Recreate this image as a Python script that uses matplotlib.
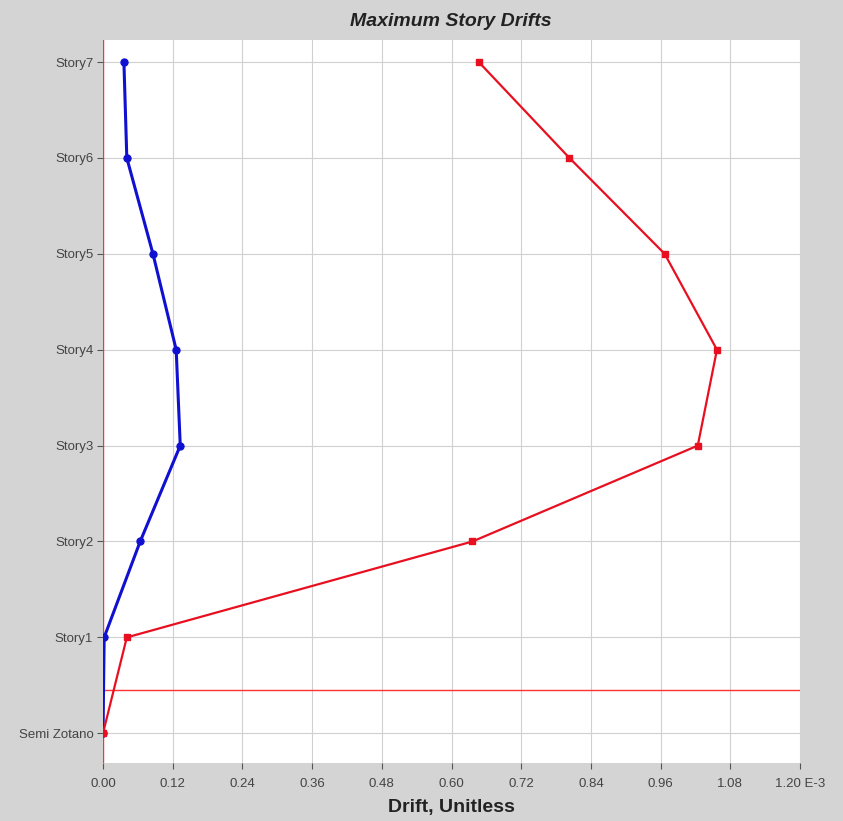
import matplotlib
matplotlib.use("Agg")
import matplotlib.pyplot as plt

plt.rcParams['font.family'] = ['Liberation Sans', 'DejaVu Sans']

stories = ["Semi Zotano", "Story1", "Story2", "Story3", "Story4", "Story5", "Story6", "Story7"]
drift_x = [0.000, 0.002, 0.064, 0.133, 0.126, 0.086, 0.041, 0.036]
drift_y = [0.000, 0.041, 0.636, 1.024, 1.057, 0.967, 0.803, 0.647]
xticks = [0.00, 0.12, 0.24, 0.36, 0.48, 0.60, 0.72, 0.84, 0.96, 1.08, 1.20]
xticklabels = ["0.00", "0.12", "0.24", "0.36", "0.48", "0.60", "0.72", "0.84", "0.96", "1.08", "1.20 E-3"]
base_line_level = 0.45

bg = "#d4d4d4"
fig = plt.figure(figsize=(8.43, 8.21), dpi=100, facecolor=bg)
ax = fig.add_axes([103/843, 1-763/821, (800-103)/843, (763-40)/821])
ax.set_facecolor("white")

ypos = list(range(len(stories)))
ax.set_xlim(0, 1.20)
ax.set_ylim(-0.31, 7.23)

ax.grid(True, color="#d0d0d0", linewidth=0.8)
ax.set_axisbelow(True)

ax.axvline(0, color="#ff3030", linewidth=1.0, zorder=2)
ax.axhline(base_line_level, color="#ff3030", linewidth=1.0, zorder=2)

ax.plot(drift_x, ypos, color="#1010d0", linewidth=2.2, marker="o", markersize=5, zorder=4)
ax.plot(drift_y, ypos, color="#e81020", linewidth=1.6, marker="s", markersize=5, zorder=4)

ax.set_xticks(xticks)
ax.set_xticklabels(xticklabels, fontsize=9.5, color="#444444")
ax.set_yticks(ypos)
ax.set_yticklabels(stories, fontsize=9.5, color="#444444")
ax.tick_params(axis="both", direction="out", length=4, color="#555555", width=0.8)
ax.tick_params(axis="x", pad=7)
ax.tick_params(axis="y", pad=3)

for s in ax.spines.values():
    s.set_visible(False)

ax.set_xlabel("Drift, Unitless", fontsize=14, fontweight="bold", color="#222222", labelpad=6)
fig.text(451/843, 1-22/821, "Maximum Story Drifts", ha="center", va="center",
         fontsize=14, fontweight="bold", style="italic", color="#222222")

fig.savefig("out.png", dpi=100, facecolor=bg)
